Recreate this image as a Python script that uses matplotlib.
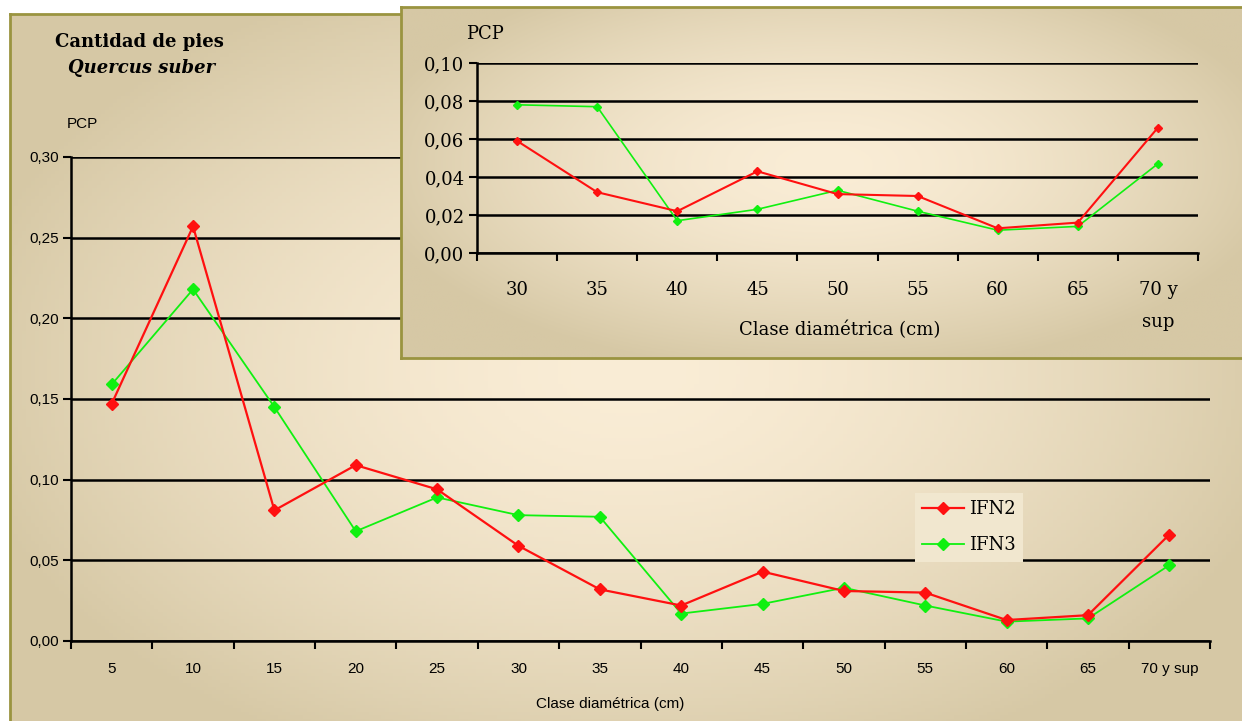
import numpy as np
import matplotlib
matplotlib.use('Agg')
import matplotlib.pyplot as plt

# data
clases = ['5', '10', '15', '20', '25', '30', '35', '40', '45', '50', '55', '60', '65', '70 y sup']
ifn2 = [0.147, 0.257, 0.081, 0.109, 0.094, 0.059, 0.032, 0.022, 0.043, 0.031, 0.030, 0.013, 0.016, 0.066]
ifn3 = [0.159, 0.218, 0.145, 0.068, 0.089, 0.078, 0.077, 0.017, 0.023, 0.033, 0.022, 0.012, 0.014, 0.047]

clases_ins = ['30', '35', '40', '45', '50', '55', '60', '65', '70 y\nsup']
ifn2_ins = ifn2[5:]
ifn3_ins = ifn3[5:]

W, H = 1242, 721
RED = '#ff1010'
GREEN = '#10f010'
OLIVE = '#9a9440'

def px(x0, y0, x1, y1):
    return [x0 / W, 1 - y1 / H, (x1 - x0) / W, (y1 - y0) / H]

def gradient(w, h, cx=0.5, cy=0.5):
    yy, xx = np.mgrid[0:1:h * 1j, 0:1:w * 1j]
    r = np.sqrt(((xx - cx) / 0.55) ** 2 + ((yy - cy) / 0.6) ** 2)
    t = np.clip(r, 0, 1) ** 1.6
    light = np.array([250, 237, 214]) / 255
    dark = np.array([214, 200, 165]) / 255
    return light[None, None, :] * (1 - t[..., None]) + dark[None, None, :] * t[..., None]

fig = plt.figure(figsize=(W / 100, H / 100), dpi=100)
fig.patch.set_facecolor('white')

# background panel of main chart
bg = fig.add_axes(px(10, 14, W + 5, H + 5))
bg.imshow(gradient(300, 200), aspect='auto', extent=[0, 1, 0, 1])
bg.set_xlim(0, 1)
bg.set_ylim(0, 1)
bg.set_xticks([])
bg.set_yticks([])
for s in bg.spines.values():
    s.set_color(OLIVE)
    s.set_linewidth(2)

# main axes
ax = fig.add_axes(px(71, 157, 1210, 641))
ax.patch.set_alpha(0)
x = np.arange(len(clases))
ax.plot(x, ifn2, color=RED, marker='D', ms=6.5, lw=1.6, label='IFN2', zorder=4)
ax.plot(x, ifn3, color=GREEN, marker='D', ms=6.5, lw=1.3, label='IFN3', zorder=3)
ax.set_xlim(-0.5, len(clases) - 0.5)
ax.set_ylim(0, 0.30)
ax.set_yticks(np.arange(0, 0.31, 0.05))
ax.set_yticklabels([f'{v:.2f}'.replace('.', ',') for v in np.arange(0, 0.31, 0.05)],
                   fontsize=11, family='Liberation Sans')
ax.set_xticks(x)
ax.set_xticklabels(clases, fontsize=11, family='Liberation Sans')
ax.set_xticks(np.arange(-0.5, len(clases)), minor=True)
ax.tick_params(axis='x', which='major', length=0, pad=15)
ax.tick_params(axis='x', which='minor', length=6, width=1.5, direction='out')
ax.tick_params(axis='y', length=6, width=1.5, direction='out', pad=3)
ax.grid(axis='y', color='black', lw=1.8)
ax.set_axisbelow(True)
for k in ['top', 'right']:
    ax.spines[k].set_visible(False)
ax.spines['left'].set_linewidth(1.8)
ax.spines['bottom'].set_linewidth(1.8)

leg = ax.legend(loc='upper left', bbox_to_anchor=(906 / W, 1 - 484 / H),
                bbox_transform=fig.transFigure, frameon=True, fancybox=False,
                handlelength=2.3, handletextpad=0.3, labelspacing=1.0, borderpad=0.4,
                prop={'family': 'DejaVu Serif', 'size': 13})
leg.get_frame().set_facecolor('#f1e7cf')
leg.get_frame().set_edgecolor('none')
leg.get_frame().set_alpha(1)

fig.text(610 / W, 1 - 704 / H, 'Clase diamétrica (cm)', ha='center', va='center',
         fontsize=11, family='Liberation Sans')
fig.text(67 / W, 1 - 124 / H, 'PCP', ha='left', va='center', fontsize=11, family='Liberation Sans')
fig.text(55 / W, 1 - 42 / H, 'Cantidad de pies', ha='left', va='center', fontsize=13,
         family='DejaVu Serif', weight='bold')
fig.text(68 / W, 1 - 68 / H, 'Quercus suber', ha='left', va='center', fontsize=13,
         family='DejaVu Serif', weight='bold', style='italic')

# inset panel
pan = fig.add_axes(px(401, 7, W + 5, 358))
pan.imshow(gradient(300, 150, cx=0.5, cy=0.45), aspect='auto', extent=[0, 1, 0, 1])
pan.set_xlim(0, 1)
pan.set_ylim(0, 1)
pan.set_xticks([])
pan.set_yticks([])
for s in pan.spines.values():
    s.set_color(OLIVE)
    s.set_linewidth(2)

ins = fig.add_axes(px(477, 63, 1198, 253))
ins.patch.set_alpha(0)
xi = np.arange(len(clases_ins))
ins.plot(xi, ifn2_ins, color=RED, marker='D', ms=4.5, lw=1.5, zorder=4)
ins.plot(xi, ifn3_ins, color=GREEN, marker='D', ms=4.5, lw=1.2, zorder=3)
ins.set_xlim(-0.5, len(clases_ins) - 0.5)
ins.set_ylim(0, 0.10)
yt = np.arange(0, 0.101, 0.02)
ins.set_yticks(yt)
ins.set_yticklabels([f'{v:.2f}'.replace('.', ',') for v in yt], fontsize=13, family='DejaVu Serif')
ins.set_xticks(xi)
ins.set_xticklabels(clases_ins, fontsize=13, family='DejaVu Serif', va='top', linespacing=2.0)
ins.set_xticks(np.arange(-0.5, len(clases_ins)), minor=True)
ins.tick_params(axis='x', which='major', length=0, pad=20)
ins.tick_params(axis='x', which='minor', length=6, width=1.5, direction='out')
ins.tick_params(axis='y', length=6, width=1.5, direction='out', pad=3)
ins.grid(axis='y', color='black', lw=1.8)
ins.set_axisbelow(True)
for k in ['top', 'right']:
    ins.spines[k].set_visible(False)
ins.spines['left'].set_linewidth(1.8)
ins.spines['bottom'].set_linewidth(1.8)
fig.text(466 / W, 1 - 34 / H, 'PCP', ha='left', va='center', fontsize=13, family='DejaVu Serif')
fig.text(840 / W, 1 - 330 / H, 'Clase diamétrica (cm)', ha='center', va='center',
         fontsize=13, family='DejaVu Serif')

fig.savefig('out.png', dpi=100)
